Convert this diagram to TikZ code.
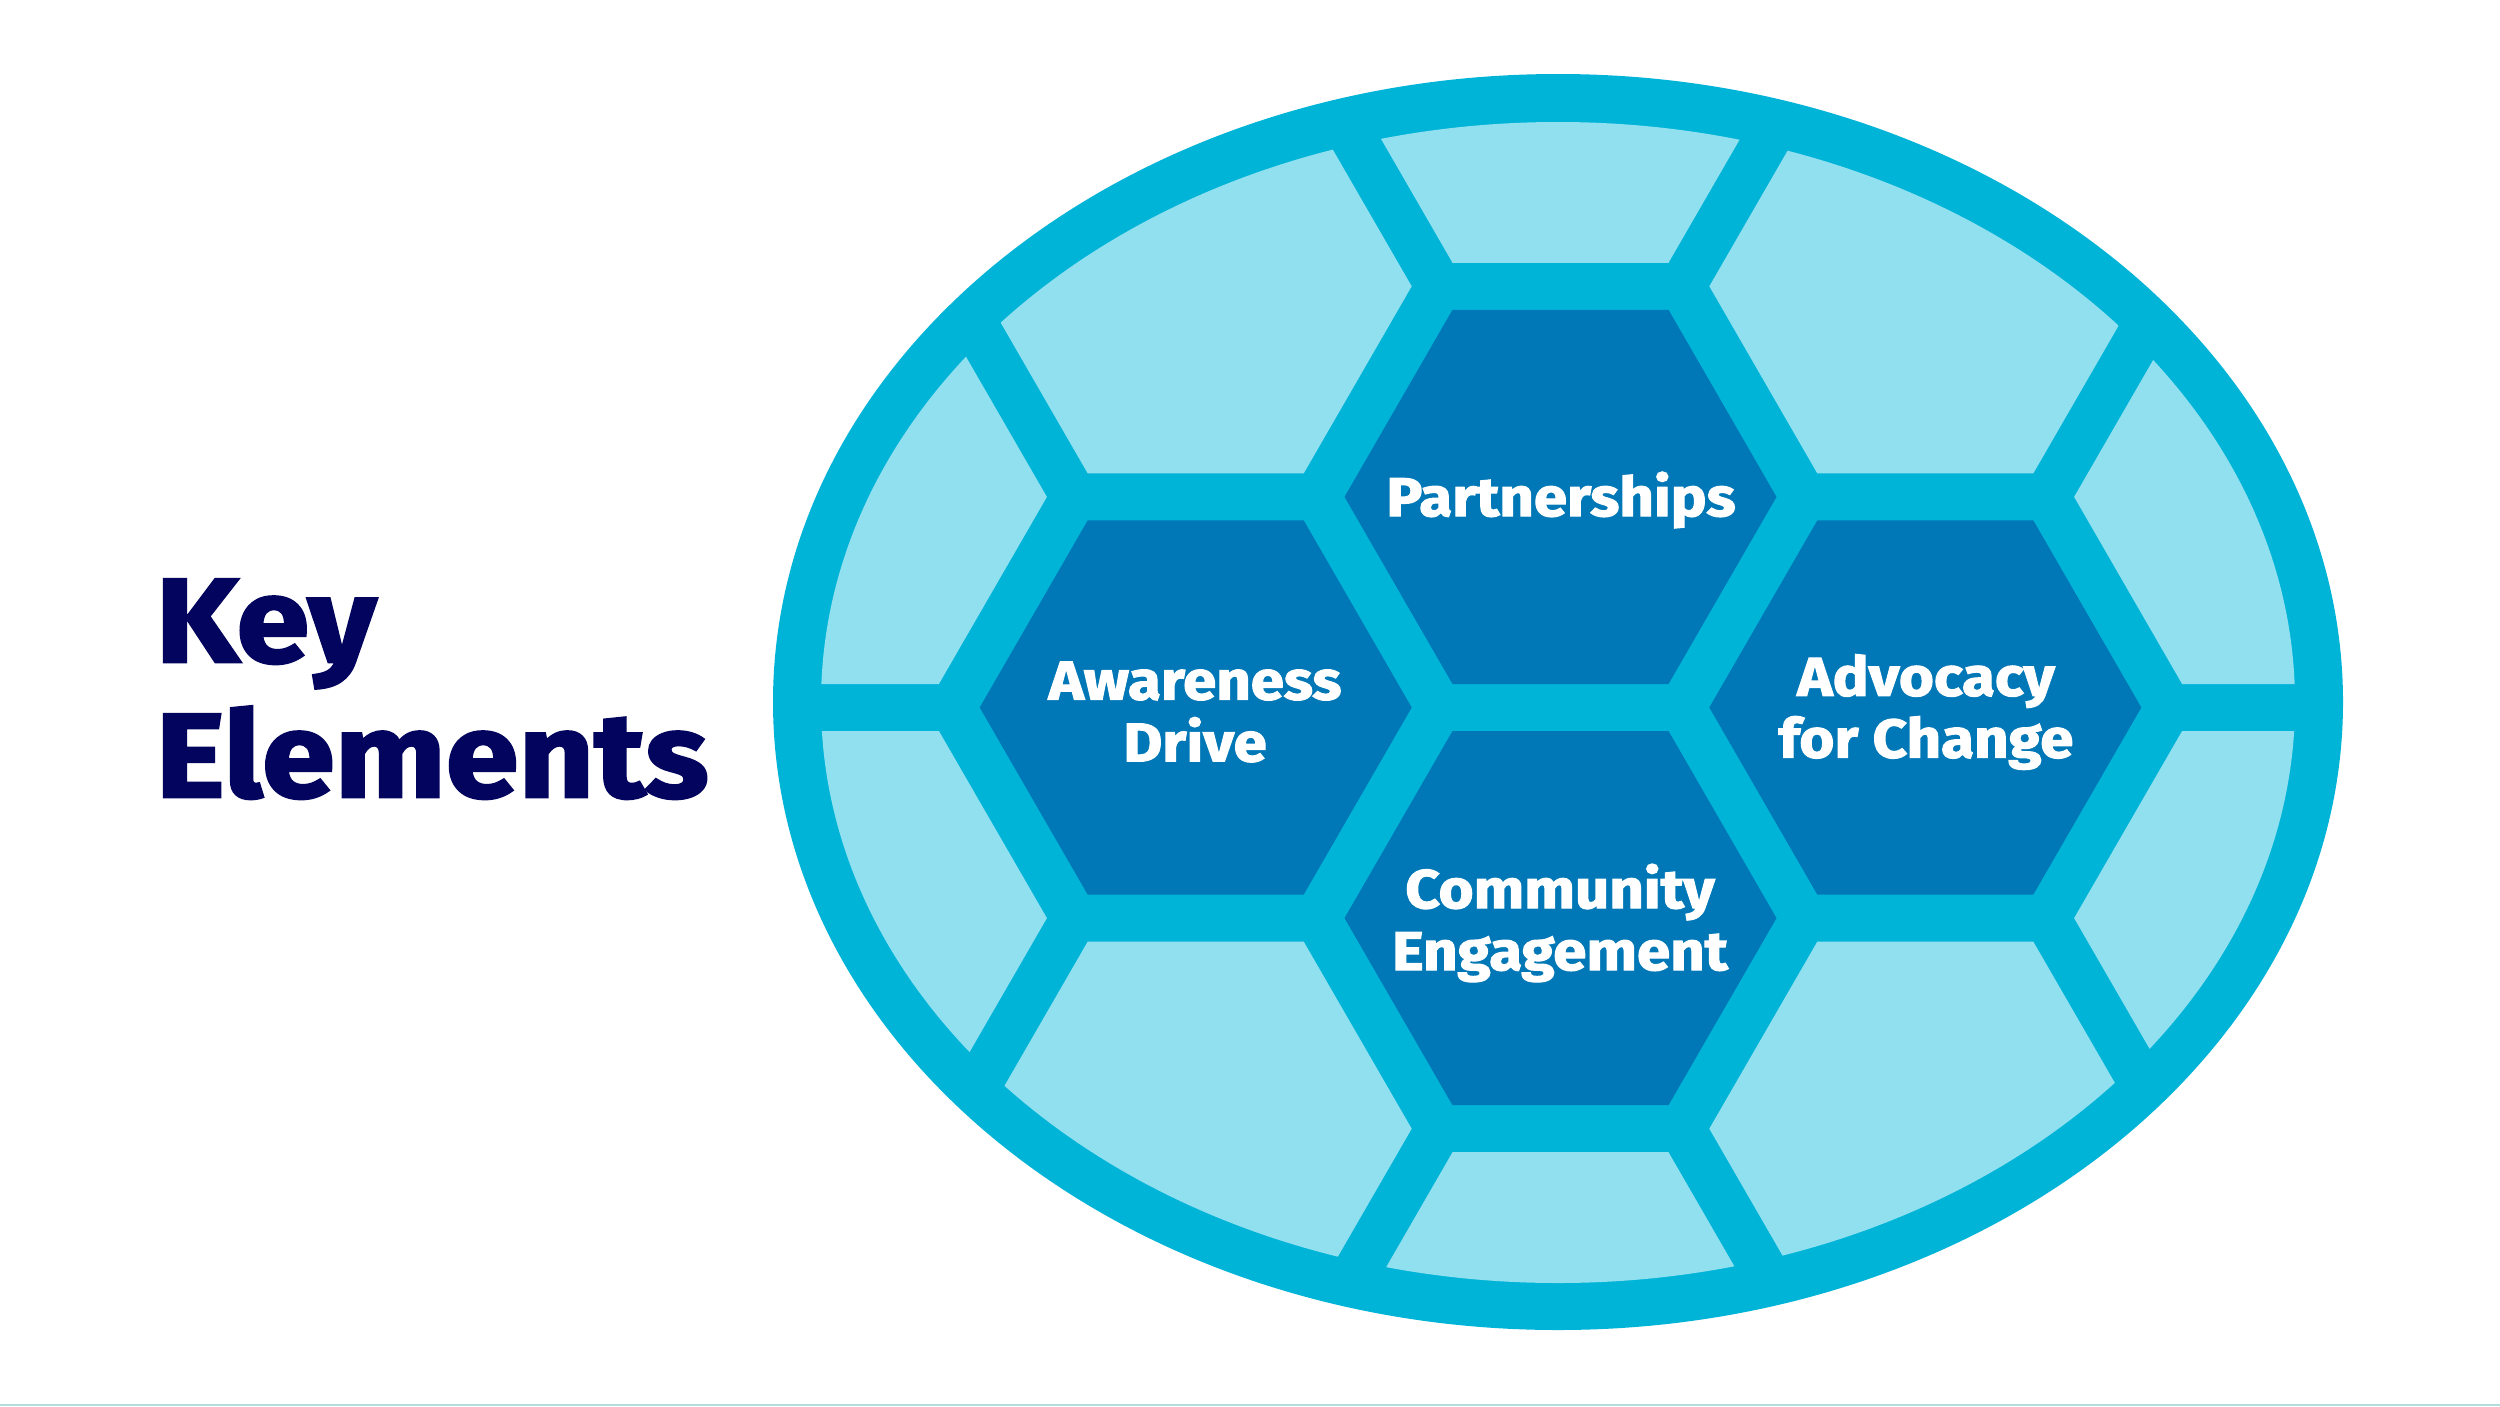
\documentclass[tikz,border=0pt]{standalone}
\usepackage{fontspec}
\setmainfont{Fira Sans}
\newfontfamily\heavyfont{Fira Sans}[BoldFeatures={FakeBold=2.2, FakeStretch=1.1}]
\definecolor{ringcol}{HTML}{00B4D8}
\definecolor{lightcol}{HTML}{90E0EF}
\definecolor{darkcol}{HTML}{0077B6}
\definecolor{navycol}{HTML}{03045E}
\definecolor{linecol}{HTML}{B4DCDC}
\tikzset{
  lightcell/.style={fill=lightcol},
  darkcell/.style={fill=darkcol},
  hexlabel/.style={text=white, align=center, inner sep=0pt,
    font=\heavyfont\bfseries\fontsize{15.5}{17.6}\selectfont},
  titletext/.style={text=navycol, inner sep=0pt, anchor=base west,
    font=\heavyfont\bfseries\fontsize{34}{38}\selectfont}
}
\newcommand\hexpath{+(216,0) -- +(108,187.1) -- +(-108,187.1) -- +(-216,0) -- +(-108,-187.1) -- +(108,-187.1) -- cycle}
\begin{document}
\begin{tikzpicture}[x=0.01cm,y=-0.01cm]
\useasboundingbox (0,0) rectangle (2500,1406);
\fill[white] (0,0) rectangle (2500,1406);
\fill[linecol] (0,1403.5) rectangle (2500,1406);
% outer ring
\fill[ringcol] (1558,702) ellipse [x radius=785, y radius=628];
% light cells clipped to inner ellipse
\begin{scope}
\clip (1558,702.5) ellipse [x radius=737, y radius=580.5];
\foreach \cx/\cy in {1560.5/75.7, 1560.5/1339.3,
  1195.7/286.3, 1195.7/1128.7, 1925.3/286.3, 1925.3/1128.7,
  830.9/496.9, 830.9/918.1, 2290.1/496.9, 2290.1/918.1,
  830.9/75.7, 830.9/1339.3, 2290.1/75.7, 2290.1/1339.3}
  \fill[lightcell] (\cx,\cy) \hexpath;
\end{scope}
% dark hexagons
\foreach \cx/\cy in {1560.5/496.9, 1195.7/707.5, 1925.3/707.5, 1560.5/918.1}
  \fill[darkcell] (\cx,\cy) \hexpath;
% labels
\node[hexlabel] (partnerships) at (1561,500) {Partnerships};
\node[hexlabel] (awareness) at (1195,712) {Awareness\\Drive};
\node[hexlabel] (advocacy) at (1926,712) {Advocacy\\for Change};
\node[hexlabel] (community) at (1560,923) {Community\\Engagement};
% title
\node[titletext] (key) at (155,662) {Key};
\node[titletext] (elements) at (155,797) {Elements};
\end{tikzpicture}
\end{document}
